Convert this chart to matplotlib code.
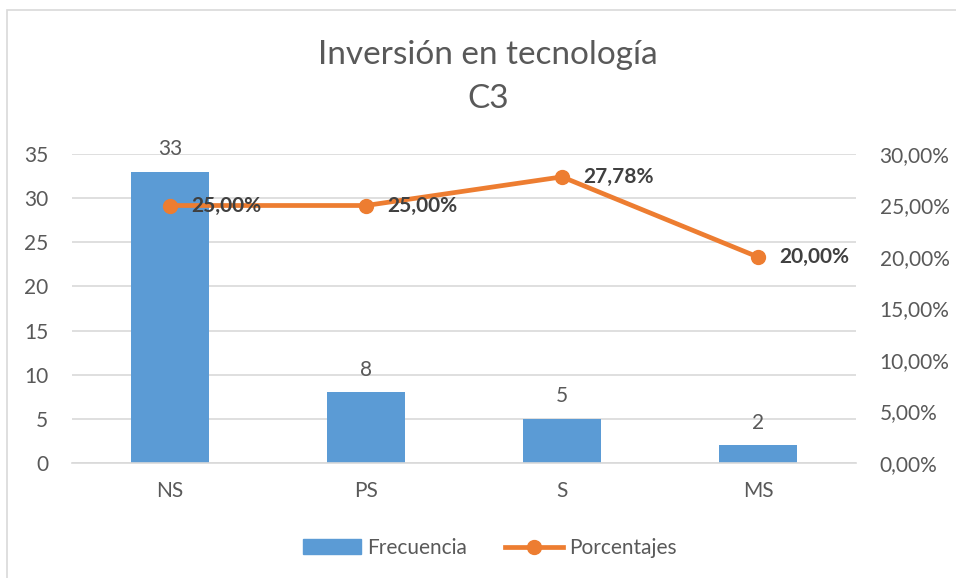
import matplotlib.pyplot as plt
from matplotlib.ticker import FuncFormatter
from matplotlib.lines import Line2D
from matplotlib.patches import Patch, Rectangle

plt.rcParams['font.family'] = ['Lato', 'DejaVu Sans']

categorias = ['NS', 'PS', 'S', 'MS']
frecuencia = [33, 8, 5, 2]
porcentajes = [25.00, 25.00, 27.78, 20.00]

azul = '#5B9BD5'
naranja = '#ED7D31'
gris_txt = '#595959'
gris_linea = '#D9D9D9'

fig = plt.figure(figsize=(9.56, 5.78), dpi=100)
# marco del area del grafico
fig.patches.append(Rectangle((7 / 956, -0.1), 1.2, 1 - 10 / 578 + 0.1,
                             transform=fig.transFigure, fill=False,
                             edgecolor=gris_linea, linewidth=1.2))

ax = fig.add_axes([72 / 956, 1 - 463 / 578, (856 - 72) / 956, (463 - 154) / 578])
ax2 = ax.twinx()

x = range(len(categorias))
ax.bar(x, frecuencia, width=0.4, color=azul, zorder=2)
for i, v in enumerate(frecuencia):
    ax.text(i, v + 1.4, str(v), ha='center', va='bottom', fontsize=15, color=gris_txt)

ax.set_ylim(0, 35)
ax.set_yticks(range(0, 36, 5))
ax.set_xlim(-0.5, len(categorias) - 0.5)
ax.set_xticks(list(x))
ax.set_xticklabels(categorias)
ax.yaxis.grid(True, color=gris_linea, linewidth=1.2, zorder=0)
ax.set_axisbelow(True)
for s in ax.spines.values():
    s.set_visible(False)
ax.spines['bottom'].set_visible(True)
ax.spines['bottom'].set_color(gris_linea)
ax.spines['bottom'].set_linewidth(1.2)
ax.tick_params(axis='both', length=0, labelsize=15, labelcolor=gris_txt)
ax.tick_params(axis='x', pad=13)
ax.tick_params(axis='y', pad=17)

ax2.plot(list(x), porcentajes, color=naranja, linewidth=3.4, marker='o',
         markersize=10, zorder=3)
for i, p in enumerate(porcentajes):
    ax2.text(i + 0.11, p, f'{p:.2f}%'.replace('.', ','), ha='left', va='center',
             fontsize=15, fontweight='bold', color='#404040')
ax2.set_ylim(0, 30)
ax2.set_yticks(range(0, 31, 5))
ax2.yaxis.set_major_formatter(FuncFormatter(lambda v, _: f'{v:.2f}%'.replace('.', ',')))
for s in ax2.spines.values():
    s.set_visible(False)
ax2.tick_params(axis='y', length=0, labelsize=15, labelcolor=gris_txt, pad=17)

fig.text(488 / 956, 1 - 55 / 578, 'Inversión en tecnología', ha='center', va='center',
         fontsize=24, color=gris_txt)
fig.text(488 / 956, 1 - 99 / 578, 'C3', ha='center', va='center',
         fontsize=24, color=gris_txt)

handles = [Patch(color=azul, label='Frecuencia'),
           Line2D([], [], color=naranja, linewidth=3.4, marker='o', markersize=10,
                  label='Porcentajes')]
fig.legend(handles=handles, loc='center', bbox_to_anchor=(490 / 956, 1 - 548 / 578),
           ncol=2, frameon=False, fontsize=15, labelcolor=gris_txt,
           handlelength=2.8, handletextpad=0.3, columnspacing=1.8)

fig.savefig('out.png', dpi=100)
